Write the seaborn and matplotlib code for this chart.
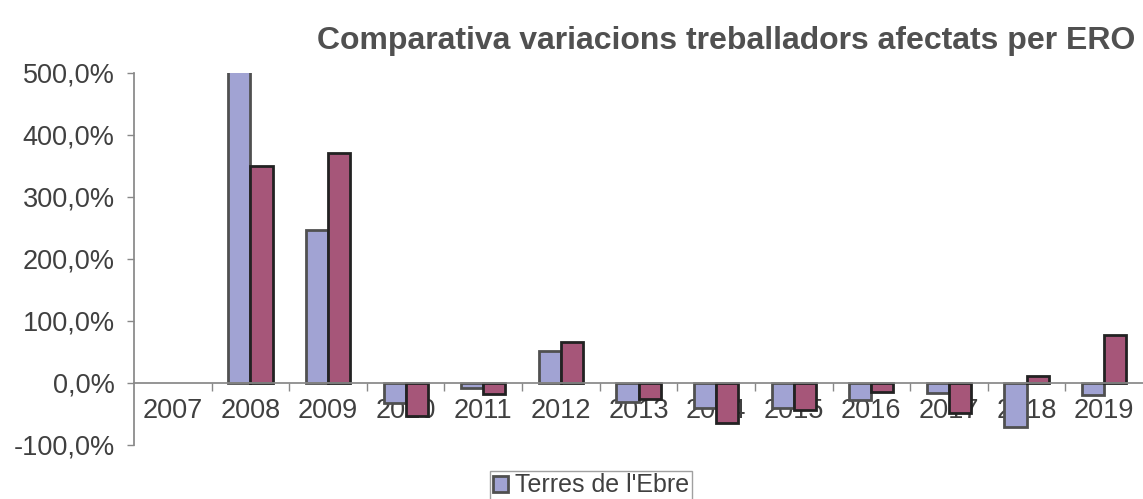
import matplotlib
matplotlib.use("Agg")
import matplotlib.pyplot as plt
import seaborn as sns
import pandas as pd
from matplotlib.ticker import FuncFormatter, FixedLocator
from matplotlib.patches import Patch

years = ["2007", "2008", "2009", "2010", "2011", "2012", "2013",
         "2014", "2015", "2016", "2017", "2018", "2019"]
terres = [0, 620, 247, -32, -8, 52, -31, -40, -41, -27, -16, -71, -19]
second = [0, 350, 371, -53, -18, 66, -26, -65, -44, -15, -49, 12, 78]
series_names = ["Terres de l'Ebre", "Catalunya"]
colors = ["#A1A3D3", "#A65679"]
edges = ["#505050", "#222222"]
yticks = [-100, 0, 100, 200, 300, 400, 500]

df = pd.DataFrame({
    "year": years * 2,
    "value": terres + second,
    "serie": [series_names[0]] * len(years) + [series_names[1]] * len(years),
})

sns.set_theme(style="white")
plt.rcParams["font.family"] = ["Liberation Sans", "DejaVu Sans"]
txt = "#404040"

fig = plt.figure(figsize=(11.43, 4.99), dpi=100)
ax = fig.add_axes([134 / 1143, 1 - 445 / 499, 1 - 134 / 1143, (445 - 73) / 499])

sns.barplot(data=df, x="year", y="value", hue="serie", palette=colors,
            width=0.57, ax=ax, legend=False, saturation=1)

for i, bar in enumerate(ax.patches):
    s = 0 if i < len(years) else 1
    bar.set_edgecolor(edges[s])
    bar.set_linewidth(2.0 if bar.get_height() != 0 else 0)
    bar.set_clip_on(True)

ax.set_ylim(-100, 500)
ax.set_xlim(-0.5, len(years) - 0.5)
ax.set_yticks(yticks)
ax.yaxis.set_major_formatter(FuncFormatter(lambda v, p: f"{v:.1f}%".replace(".", ",")))
ax.tick_params(axis="y", labelsize=19.5, colors=txt, length=5, width=1, direction="out", left=True, pad=9)
ax.tick_params(axis="y", color="#888888")

ax.spines["top"].set_visible(False)
ax.spines["right"].set_visible(False)
ax.spines["left"].set_color("#888888")
ax.spines["bottom"].set_position(("data", 0))
ax.spines["bottom"].set_color("#888888")
ax.set_xlabel("")
ax.set_ylabel("")

ax.xaxis.set_minor_locator(FixedLocator([i + 0.5 for i in range(len(years) - 1)]))
ax.tick_params(axis="x", which="major", length=0, labelsize=19.5, labelcolor=txt, pad=11, bottom=True)
ax.tick_params(axis="x", which="minor", length=6, width=1, color="#888888", bottom=True, direction="out")

fig.text(1135 / 1143, 1 - 41 / 499, "Comparativa variacions treballadors afectats per ERO",
         ha="right", va="center", fontsize=23, fontweight="bold", color="#505050")

handles = [Patch(facecolor=colors[0], edgecolor=edges[0], linewidth=2)]
leg = fig.legend(handles, [series_names[0]], loc="upper center",
                 bbox_to_anchor=(591 / 1143, 1 - 471 / 499), fontsize=18,
                 frameon=True, fancybox=False, handlelength=0.6, handleheight=0.6,
                 handletextpad=0.3, borderpad=0.1, borderaxespad=0, labelcolor=txt)
leg.get_frame().set_edgecolor("#888888")
leg.get_frame().set_linewidth(1)

fig.savefig("out.png", dpi=100)
